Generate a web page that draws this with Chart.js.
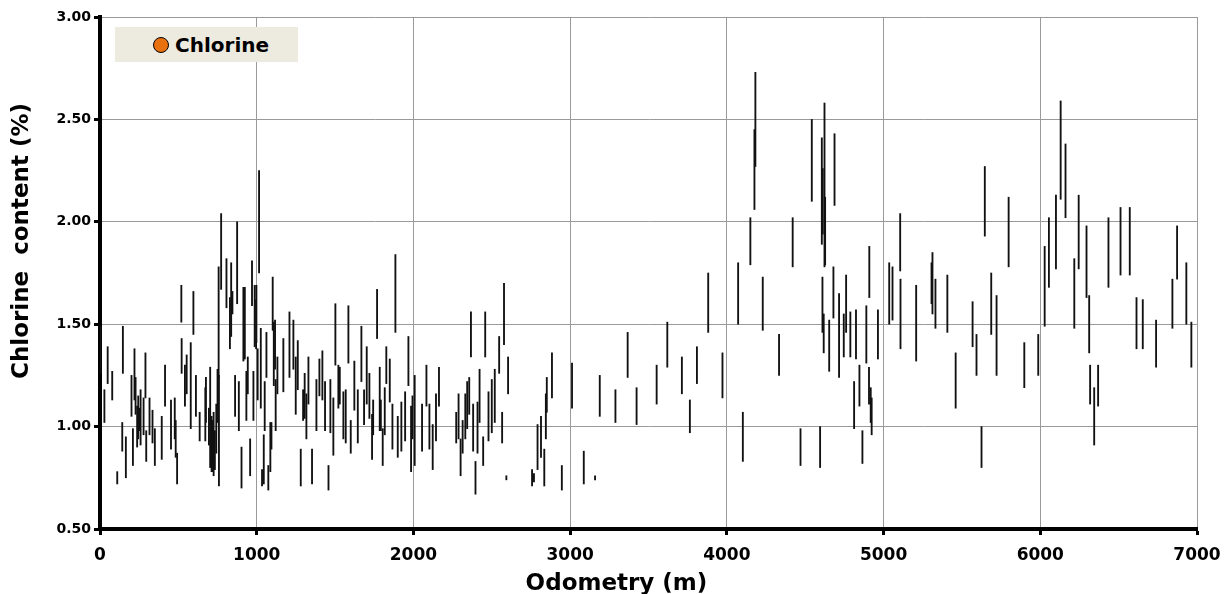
<!DOCTYPE html>
<html>
<head>
<meta charset="utf-8">
<script src="https://cdn.jsdelivr.net/npm/chart.js@4.4.0/dist/chart.umd.min.js"></script>
<style>
  html, body { margin: 0; padding: 0; background: #fff; }
  #wrap { position: relative; width: 1224px; height: 594px; }
  #legend { position: absolute; left: 115px; top: 27px; width: 183px; height: 35px;
    background: #EDEBE0; font-family: "DejaVu Sans", sans-serif; font-weight: bold; font-size: 20px;
    color: #000; display: flex; align-items: center; }
  #legend .dot { width: 14px; height: 14px; border-radius: 50%; background: #E8700E; border: 1px solid #000;
    margin-left: 38px; margin-right: 6px; }
</style>
</head>
<body>
<div id="wrap">
  <canvas id="c" width="1224" height="594"></canvas>
  <div id="legend"><span class="dot"></span><span>Chlorine</span></div>
</div>
<script>
const seriesName = "Chlorine";
const xTitle = "Odometry (m)";
const yTitle = "Chlorine  content (%)";

const odometry = [
  4, 28, 49, 78, 110, 142, 146, 165, 201, 210, 220, 227, 237, 244, 252, 259, 278, 290, 295, 316,
  335, 350, 394, 415, 453, 477, 483, 492, 519, 521, 542, 553, 579, 596, 612, 636, 672, 676, 695, 703,
  712, 716, 725, 733, 742, 750, 757, 759, 773, 807, 829, 837, 845, 862, 875, 886, 903, 915, 924, 934,
  943, 958, 970, 979, 987, 996, 998, 1006, 1015, 1026, 1034, 1045, 1051, 1062, 1074, 1087, 1094, 1102, 1109, 1117,
  1121, 1132, 1170, 1209, 1234, 1249, 1262, 1281, 1296, 1306, 1317, 1330, 1353, 1381, 1400, 1419, 1436, 1458, 1470, 1489,
  1502, 1521, 1530, 1553, 1568, 1585, 1600, 1623, 1645, 1668, 1685, 1702, 1719, 1736, 1743, 1768, 1785, 1792, 1804, 1817,
  1827, 1849, 1866, 1885, 1900, 1923, 1947, 1968, 1985, 1994, 2008, 2055, 2083, 2102, 2123, 2144, 2163, 2273, 2288, 2301,
  2314, 2331, 2343, 2356, 2367, 2381, 2396, 2409, 2422, 2445, 2458, 2479, 2500, 2519, 2547, 2566, 2578, 2593, 2604, 2757,
  2769, 2792, 2814, 2835, 2845, 2851, 2884, 2947, 3012, 3087, 3159, 3189, 3289, 3367, 3424, 3552, 3620, 3713, 3764, 3809,
  3881, 3972, 4072, 4102, 4150, 4176, 4182, 4229, 4333, 4420, 4470, 4542, 4595, 4606, 4610, 4612, 4618, 4623, 4627, 4653,
  4680, 4687, 4716, 4746, 4761, 4788, 4812, 4824, 4846, 4865, 4890, 4907, 4909, 4918, 4924, 4964, 5036, 5057, 5106, 5108,
  5208, 5306, 5312, 5331, 5407, 5460, 5568, 5593, 5625, 5646, 5687, 5721, 5798, 5898, 5987, 6028, 6055, 6100, 6130, 6161,
  6217, 6245, 6295, 6312, 6318, 6344, 6369, 6435, 6512, 6571, 6614, 6654, 6739, 6843, 6873, 6932, 6964
];
const chlorineLow = [
  1.26, 1.02, 1.21, 1.13, 0.72, 0.88, 1.26, 0.75, 1.05, 0.81, 1.13, 1.06, 0.90, 0.94, 0.98, 0.91, 0.96, 1.14, 0.83, 0.96,
  0.92, 0.81, 0.84, 1.10, 0.89, 0.94, 0.85, 0.72, 1.51, 1.26, 1.10, 1.16, 0.99, 1.45, 1.05, 0.93, 0.93, 1.02, 0.91, 0.80,
  0.78, 0.78, 0.76, 0.79, 0.87, 1.02, 1.24, 0.71, 1.67, 1.58, 1.38, 1.44, 1.55, 1.05, 1.60, 0.98, 0.70, 1.32, 1.33, 1.03,
  1.16, 0.76, 1.59, 1.03, 1.39, 1.38, 1.41, 1.13, 1.75, 1.09, 0.71, 0.72, 0.98, 1.24, 0.69, 0.78, 0.89, 1.47, 1.20, 1.28,
  0.98, 1.16, 1.17, 1.24, 1.28, 1.06, 1.18, 0.71, 1.03, 1.04, 0.94, 1.11, 0.72, 0.98, 1.15, 1.13, 0.98, 0.69, 0.97, 0.86,
  1.30, 1.09, 1.11, 0.94, 0.92, 1.31, 0.87, 1.08, 0.92, 1.22, 1.01, 1.11, 1.04, 0.84, 0.96, 1.43, 0.98, 0.98, 0.81, 0.96,
  1.21, 1.12, 0.89, 1.46, 0.85, 0.88, 0.93, 1.20, 0.78, 0.94, 0.81, 0.88, 1.10, 0.89, 0.79, 0.93, 1.10, 0.92, 0.94, 0.76,
  0.87, 0.94, 0.99, 1.06, 1.34, 0.88, 0.67, 0.87, 1.02, 0.81, 1.34, 0.93, 0.97, 1.02, 1.26, 0.92, 1.40, 0.74, 1.16, 0.71,
  0.73, 0.79, 0.85, 0.71, 0.94, 1.07, 1.14, 0.69, 1.09, 0.72, 0.74, 1.05, 1.02, 1.24, 1.01, 1.11, 1.29, 1.16, 0.97, 1.21,
  1.46, 1.14, 1.50, 0.83, 1.79, 2.06, 2.27, 1.47, 1.25, 1.78, 0.81, 2.10, 0.80, 1.89, 1.46, 1.94, 1.36, 1.78, 1.79, 1.27,
  1.53, 2.08, 1.24, 1.34, 1.46, 1.34, 0.99, 1.33, 1.10, 0.82, 1.31, 1.11, 1.63, 1.02, 0.96, 1.33, 1.50, 1.52, 1.76, 1.38,
  1.32, 1.60, 1.55, 1.48, 1.46, 1.09, 1.39, 1.25, 0.80, 1.93, 1.45, 1.25, 1.78, 1.19, 1.25, 1.49, 1.68, 1.77, 2.11, 2.02,
  1.48, 1.77, 1.63, 1.36, 1.11, 0.91, 1.10, 1.68, 1.74, 1.74, 1.38, 1.38, 1.29, 1.48, 1.72, 1.50, 1.29
];
const chlorineHigh = [
  1.49, 1.18, 1.39, 1.27, 0.78, 1.02, 1.49, 0.95, 1.25, 0.99, 1.38, 1.24, 1.10, 1.15, 1.09, 1.18, 1.14, 1.36, 0.98, 1.14,
  1.08, 0.99, 1.05, 1.30, 1.13, 1.14, 1.03, 0.87, 1.69, 1.43, 1.30, 1.35, 1.41, 1.66, 1.25, 1.07, 1.19, 1.24, 1.09, 1.29,
  1.05, 1.03, 1.07, 0.98, 1.11, 1.28, 1.78, 1.25, 2.04, 1.82, 1.63, 1.80, 1.66, 1.25, 2.00, 1.22, 0.90, 1.68, 1.68, 1.27,
  1.34, 0.94, 1.81, 1.27, 1.69, 1.62, 1.69, 1.38, 2.25, 1.48, 0.79, 0.96, 1.22, 1.46, 0.81, 1.02, 1.02, 1.73, 1.51, 1.52,
  1.23, 1.34, 1.43, 1.56, 1.52, 1.34, 1.42, 0.89, 1.18, 1.26, 1.16, 1.34, 0.89, 1.23, 1.33, 1.37, 1.22, 0.81, 1.23, 1.14,
  1.60, 1.30, 1.29, 1.17, 1.18, 1.59, 1.03, 1.32, 1.18, 1.49, 1.18, 1.39, 1.26, 1.06, 1.13, 1.67, 1.29, 1.13, 0.99, 1.19,
  1.39, 1.33, 1.11, 1.84, 1.05, 1.12, 1.17, 1.44, 1.10, 1.15, 1.25, 1.11, 1.30, 1.11, 1.01, 1.16, 1.29, 1.07, 1.16, 0.94,
  1.03, 1.16, 1.22, 1.24, 1.56, 1.11, 0.83, 1.12, 1.28, 0.95, 1.56, 1.17, 1.23, 1.28, 1.44, 1.07, 1.70, 0.76, 1.34, 0.79,
  0.77, 1.01, 1.05, 0.89, 1.16, 1.24, 1.36, 0.81, 1.31, 0.88, 0.76, 1.25, 1.18, 1.46, 1.19, 1.30, 1.51, 1.34, 1.13, 1.39,
  1.75, 1.36, 1.80, 1.07, 2.02, 2.45, 2.73, 1.73, 1.45, 2.02, 0.99, 2.50, 1.00, 2.41, 1.73, 2.26, 1.55, 2.58, 2.12, 1.52,
  1.78, 2.43, 1.65, 1.55, 1.74, 1.56, 1.22, 1.57, 1.30, 0.98, 1.59, 1.29, 1.88, 1.19, 1.14, 1.57, 1.80, 1.78, 2.04, 1.72,
  1.69, 1.80, 1.85, 1.72, 1.74, 1.36, 1.61, 1.45, 1.00, 2.27, 1.75, 1.64, 2.12, 1.41, 1.45, 1.88, 2.02, 2.13, 2.59, 2.38,
  1.82, 2.13, 1.98, 1.64, 1.30, 1.19, 1.30, 2.02, 2.07, 2.07, 1.63, 1.62, 1.52, 1.72, 1.98, 1.80, 1.51
];

const points = odometry.map((x, i) => ({ x: x, y: [chlorineLow[i], chlorineHigh[i]] }));

const FONT = "'DejaVu Sans', sans-serif";

new Chart(document.getElementById('c'), {
  type: 'bar',
  data: {
    datasets: [{
      label: seriesName,
      data: points,
      backgroundColor: '#111',
      borderWidth: 0,
      barThickness: 1.2,
      grouped: false
    }]
  },
  options: {
    responsive: false,
    animation: false,
    layout: { padding: { top: 17, right: 27, left: 0, bottom: 0 } },
    plugins: { legend: { display: false }, tooltip: { enabled: false } },
    scales: {
      x: {
        type: 'linear',
        min: 0, max: 7000,
        offset: false,
        ticks: { stepSize: 1000, color: '#000', padding: 10, maxRotation: 0,
          callback: (v) => String(v),
          font: { family: FONT, weight: 'bold', size: 17 } },
        grid: { color: '#9a9a9a', lineWidth: 1, offset: false, tickColor: '#000', tickWidth: 3, tickLength: 6 },
        border: { color: '#000', width: 4 },
        title: { display: true, text: xTitle + '        ', color: '#000', padding: { top: 0, bottom: -4 },
          font: { family: FONT, weight: 'bold', size: 23 } },
        afterFit: (s) => { s.height = 65; s.paddingRight = 0; s.paddingLeft = 0; }
      },
      y: {
        min: 0.5, max: 3.0,
        ticks: { stepSize: 0.5, color: '#000', padding: 3,
          callback: (v) => Number(v).toFixed(2),
          font: { family: FONT, weight: 'bold', size: 14 } },
        grid: { color: '#9a9a9a', lineWidth: 1, tickColor: '#000', tickWidth: 3, tickLength: 6 },
        border: { color: '#000', width: 4 },
        title: { display: true, text: '        ' + yTitle, color: '#000', padding: { top: 8, bottom: 0 },
          font: { family: FONT, weight: 'bold', size: 23 } },
        afterFit: (s) => { s.width = 100; }
      }
    }
  }
});
</script>
</body>
</html>
